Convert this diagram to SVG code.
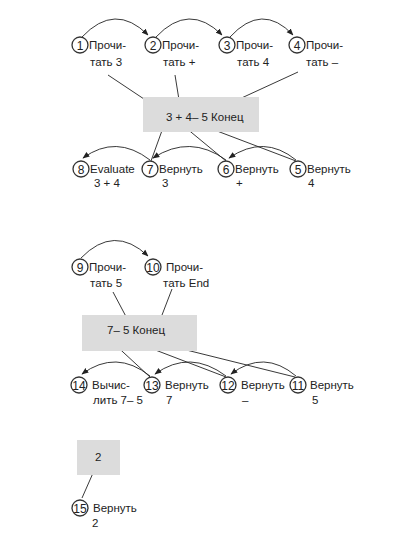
<svg xmlns="http://www.w3.org/2000/svg" width="417" height="540" viewBox="0 0 417 540">
<style>
text{font-family:"Liberation Sans",Arial,sans-serif;font-size:11.5px;fill:#222}
.num{text-anchor:middle;font-size:12px}
.c{fill:none;stroke:#333;stroke-width:1.3}
.box{fill:#dcdcdc}
.ln{fill:none;stroke:#222;stroke-width:0.9}
.arc{fill:none;stroke:#222;stroke-width:0.9;marker-end:url(#ah)}
</style>
<defs>
<marker id="ah" viewBox="0 0 10 10" refX="9" refY="5" markerWidth="7" markerHeight="7" markerUnits="userSpaceOnUse" orient="auto"><path d="M0,1 L10,5 L0,9 z" fill="#222"/></marker>
</defs>
<rect width="417" height="540" fill="#fff"/>

<g id="connectors">
<path class="arc" d="M82 37 Q115 2 148 35"/>
<path class="arc" d="M156 37 Q189 2 222 35"/>
<path class="arc" d="M230 37 Q262 2 293 35"/>
<path class="ln" d="M108 75 L162 111"/>
<path class="ln" d="M175 75 L180 106"/>
<path class="ln" d="M298 72 L222 107"/>
<path class="ln" d="M164 125 L151 161"/>
<path class="ln" d="M180 123 L226 161"/>
<path class="ln" d="M196 123 L296 161"/>
<path class="arc" d="M296 160 Q264 134 229 158"/>
<path class="arc" d="M226 160 Q190 134 153 158"/>
<path class="arc" d="M150 160 Q116 134 83 158"/>
<path class="arc" d="M81 258 Q114 224 148 256"/>
<path class="ln" d="M113 292 L131 326"/>
<path class="ln" d="M172 289 L157 328"/>
<path class="ln" d="M110 340 L150 377"/>
<path class="ln" d="M124 338 L226 377"/>
<path class="ln" d="M138 338 L295 377"/>
<path class="arc" d="M296 376 Q264 349 231 374"/>
<path class="arc" d="M226 376 Q190 349 155 374"/>
<path class="arc" d="M150 376 Q116 349 82 374"/>
<path class="ln" d="M97 464 L82 498"/>
</g>

<g id="n1"><circle class="c" cx="80" cy="45" r="8"/><text class="num" x="80" y="49.5">1</text><text x="89" y="49">Прочи-</text><text x="90" y="66">тать 3</text></g>
<g id="n2"><circle class="c" cx="153" cy="45" r="8"/><text class="num" x="153" y="49.5">2</text><text x="162" y="49">Прочи-</text><text x="163" y="66">тать +</text></g>
<g id="n3"><circle class="c" cx="227" cy="45" r="8"/><text class="num" x="227" y="49.5">3</text><text x="236" y="49">Прочи-</text><text x="237" y="66">тать 4</text></g>
<g id="n4"><circle class="c" cx="297" cy="45" r="8"/><text class="num" x="297" y="49.5">4</text><text x="306" y="49">Прочи-</text><text x="306" y="66">тать –</text></g>

<g id="box1"><rect class="box" x="143" y="97" width="116" height="35"/><text x="166" y="121">3 + 4– 5 Конец</text></g>

<g id="n8"><circle class="c" cx="81" cy="169" r="8"/><text class="num" x="81" y="173.5">8</text><text x="90" y="173">Evaluate</text><text x="94" y="187">3 + 4</text></g>
<g id="n7"><circle class="c" cx="150" cy="169" r="8"/><text class="num" x="150" y="173.5">7</text><text x="159" y="173">Вернуть</text><text x="162" y="187">3</text></g>
<g id="n6"><circle class="c" cx="226" cy="169" r="8"/><text class="num" x="226" y="173.5">6</text><text x="235" y="173">Вернуть</text><text x="236" y="187">+</text></g>
<g id="n5"><circle class="c" cx="298" cy="169" r="8"/><text class="num" x="298" y="173.5">5</text><text x="307" y="173">Вернуть</text><text x="308" y="187">4</text></g>

<g id="n9"><circle class="c" cx="80" cy="267" r="8"/><text class="num" x="80" y="271.5">9</text><text x="89" y="271">Прочи-</text><text x="90" y="287">тать 5</text></g>
<g id="n10"><circle class="c" cx="153" cy="267" r="8"/><text class="num" x="153" y="271.5">10</text><text x="166" y="271">Прочи-</text><text x="163" y="287">тать End</text></g>

<g id="box2"><rect class="box" x="82" y="315" width="115" height="36"/><text x="107" y="334">7– 5 Конец</text></g>

<g id="n14"><circle class="c" cx="79" cy="385" r="8"/><text class="num" x="79" y="389.5">14</text><text x="92" y="389">Вычис-</text><text x="93" y="404">лить 7– 5</text></g>
<g id="n13"><circle class="c" cx="152" cy="385" r="8"/><text class="num" x="152" y="389.5">13</text><text x="165" y="389">Вернуть</text><text x="166" y="404">7</text></g>
<g id="n12"><circle class="c" cx="228" cy="385" r="8"/><text class="num" x="228" y="389.5">12</text><text x="241" y="389">Вернуть</text><text x="242" y="404">–</text></g>
<g id="n11"><circle class="c" cx="298" cy="385" r="8"/><text class="num" x="298" y="389.5">11</text><text x="310" y="389">Вернуть</text><text x="312" y="404">5</text></g>

<g id="box3"><rect class="box" x="77" y="440" width="43" height="35"/><text x="95" y="461">2</text></g>

<g id="n15"><circle class="c" cx="80" cy="508" r="8"/><text class="num" x="80" y="512.5">15</text><text x="93" y="512">Вернуть</text><text x="92" y="527">2</text></g>
</svg>
